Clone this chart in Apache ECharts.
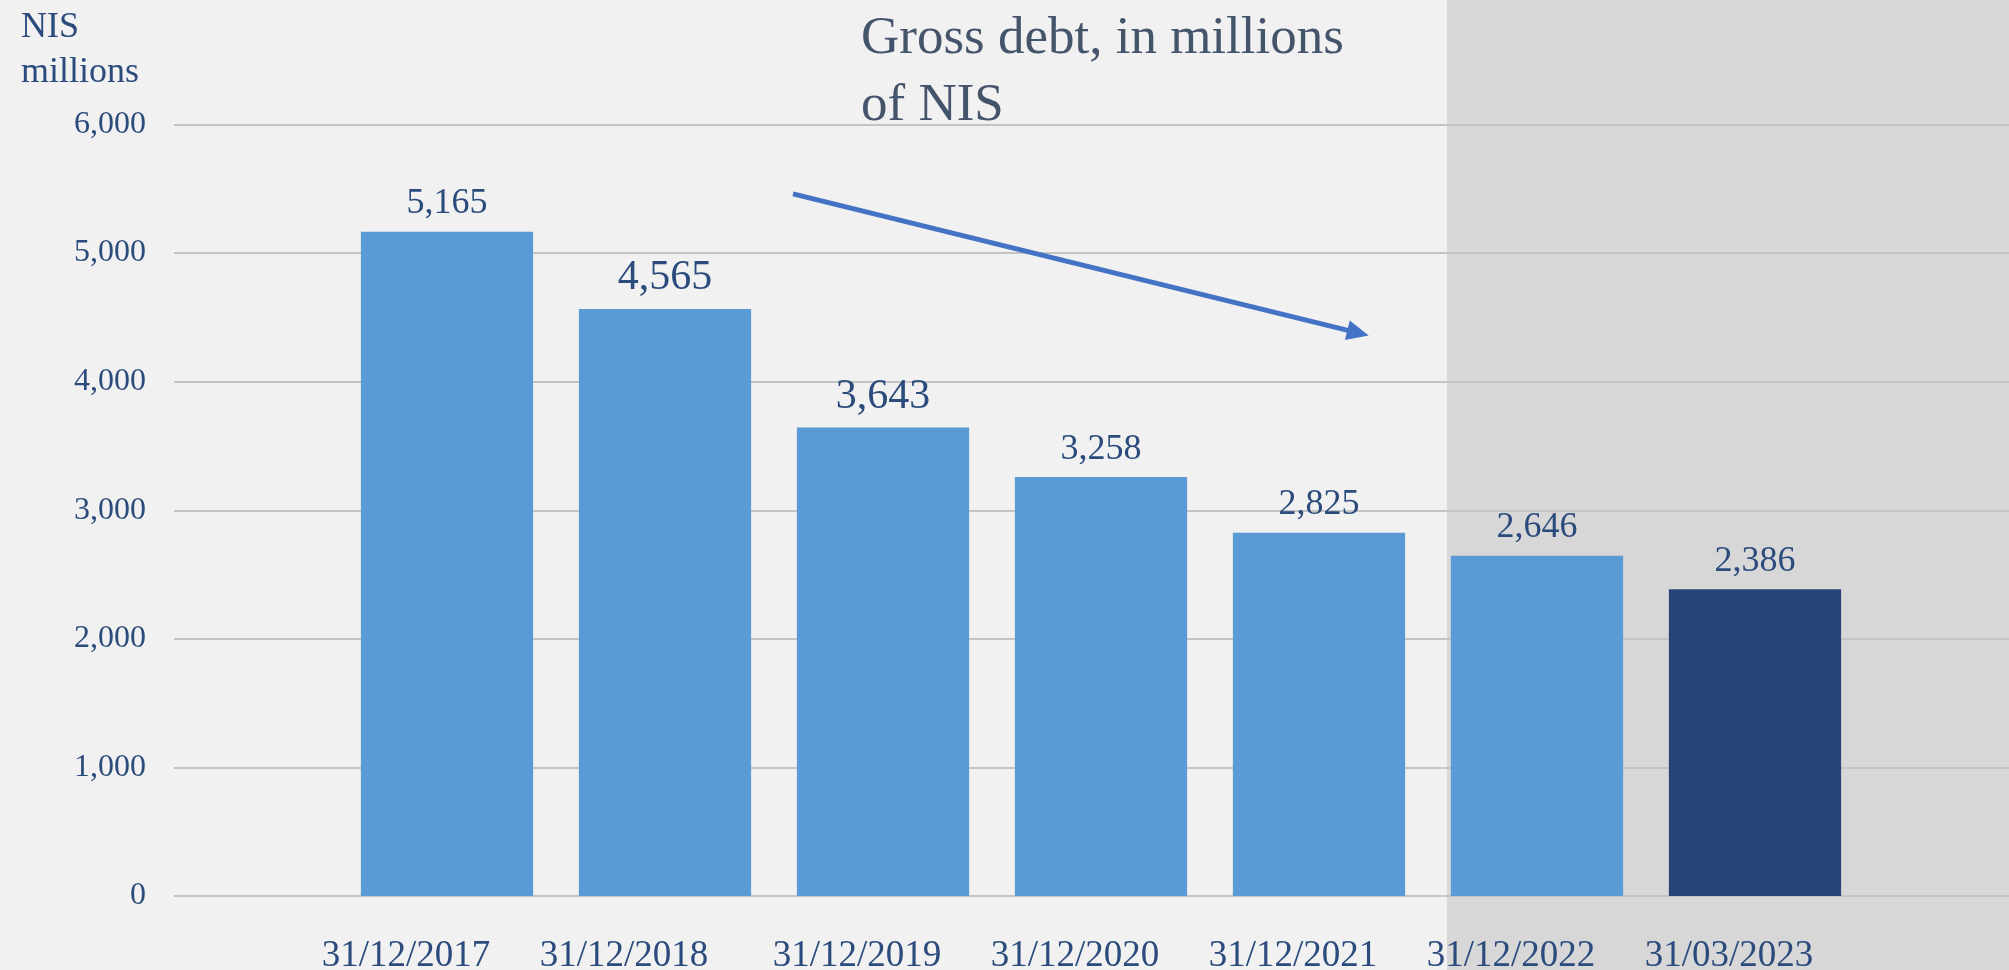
<!DOCTYPE html>
<html>
<head>
<meta charset="utf-8">
<script src="https://cdn.jsdelivr.net/npm/echarts@6/dist/echarts.min.js"></script>
<style>
  html, body { margin: 0; padding: 0; background: #F1F1F1; }
  #chart { width: 2009px; height: 970px; }
</style>
</head>
<body>
<div id="chart"></div>
<script>
// ---- data ----
const categories = ['31/12/2017', '31/12/2018', '31/12/2019', '31/12/2020', '31/12/2021', '31/12/2022', '31/03/2023'];
const grossDebt = [5165, 4565, 3643, 3258, 2825, 2646, 2386];
const yTicks = [0, 1000, 2000, 3000, 4000, 5000, 6000];
const yUnitLabel = 'NIS\nmillions';
const chartTitle = 'Gross debt, in millions\nof NIS';
// trend arrow, in (category index, value) units
const trendArrowStart = [1.587, 5460];
const trendArrowEnd = [4.179, 4380];

// ---- styles ----
const FONT = '"Liberation Serif", "Times New Roman", serif';
const TEXT = '#2A4B7C';
const LIGHT_BAR = '#5B9BD5';
const DARK_BAR = '#264478';
const labelSizes = [36, 42, 42, 36, 36, 36, 36];
const GRID_TOP = 124.5, GRID_BOTTOM = 74;

const chart = echarts.init(document.getElementById('chart'), null, { renderer: 'canvas' });

const barData = grossDebt.map((v, i) => ({
  value: v,
  itemStyle: { color: i === grossDebt.length - 1 ? DARK_BAR : LIGHT_BAR },
  label: { fontSize: labelSizes[i] }
}));

const fmt = v => Number(v).toLocaleString('en-US');

const option = {
  backgroundColor: '#F1F1F1',
  animation: false,
  graphic: [
    {
      type: 'rect', z: -10, silent: true,
      shape: { x: 1447, y: 0, width: 562, height: 970 },
      style: { fill: '#D7D7D7' }
    }
  ],
  title: [
    {
      text: yUnitLabel, left: 21, top: 5, padding: 0,
      textStyle: { fontFamily: FONT, fontSize: 36, lineHeight: 45, fontWeight: 'normal', color: TEXT }
    },
    {
      text: chartTitle, left: 861, top: 6, padding: 0,
      textStyle: { fontFamily: FONT, fontSize: 53, lineHeight: 67, fontWeight: 'normal', color: '#44546A' }
    }
  ],
  grid: [
    { left: 174, right: 0, top: GRID_TOP, bottom: GRID_BOTTOM, containLabel: false, outerBoundsMode: 'none' },
    { left: 338, right: 145, top: GRID_TOP, bottom: GRID_BOTTOM, containLabel: false, outerBoundsMode: 'none' }
  ],
  xAxis: [
    { gridIndex: 0, type: 'value', min: 0, max: 1, show: false },
    {
      gridIndex: 1, type: 'category', data: categories,
      axisLine: { show: false }, axisTick: { show: false },
      axisLabel: {
        margin: 42,
        formatter: (v, i) => (i < 2 ? '{a|' + v + '}' : '{b|' + v + '}'),
        rich: {
          a: { fontFamily: FONT, fontSize: 37, color: TEXT, padding: [0, 82, 0, 0] },
          b: { fontFamily: FONT, fontSize: 37, color: TEXT, padding: [0, 52, 0, 0] }
        }
      }
    },
    { gridIndex: 1, type: 'value', min: -0.5, max: categories.length - 0.5, show: false }
  ],
  yAxis: [
    {
      gridIndex: 0, type: 'value', min: yTicks[0], max: yTicks[yTicks.length - 1],
      interval: yTicks[1] - yTicks[0],
      axisLine: { show: false }, axisTick: { show: false },
      axisLabel: { margin: 28, fontFamily: FONT, fontSize: 32, color: TEXT, formatter: fmt },
      splitLine: { show: true, lineStyle: { color: '#C4C4C4', width: 2 } }
    },
    {
      gridIndex: 1, type: 'value', min: yTicks[0], max: yTicks[yTicks.length - 1],
      interval: yTicks[1] - yTicks[0], show: false, splitLine: { show: false }
    }
  ],
  series: [
    {
      type: 'bar', xAxisIndex: 1, yAxisIndex: 1,
      data: barData,
      barWidth: '79%',
      label: {
        show: true, position: 'top', distance: 10,
        fontFamily: FONT, color: TEXT, formatter: p => fmt(p.value)
      }
    },
    {
      type: 'line', xAxisIndex: 2, yAxisIndex: 1, data: [],
      markLine: {
        silent: true,
        symbol: ['none', 'triangle'],
        symbolSize: [20, 22],
        label: { show: false },
        lineStyle: { color: '#4472C4', width: 5, type: 'solid' },
        data: [[{ coord: trendArrowStart }, { coord: trendArrowEnd }]]
      }
    }
  ]
};

chart.setOption(option);
</script>
</body>
</html>
